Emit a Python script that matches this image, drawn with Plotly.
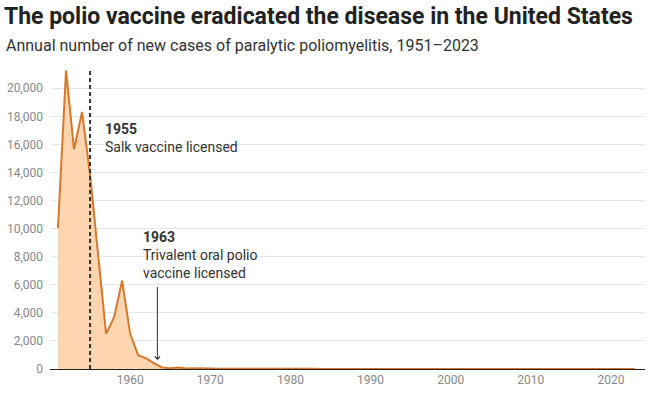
import plotly.graph_objects as go

years = list(range(1951, 2024))
cases = [10037, 21269, 15648, 18308, 13850, 7911, 2499, 3697, 6289, 2525,
         988, 762, 396, 106, 61, 106, 40, 53, 18, 31,
         17, 29, 7, 7, 13, 10, 18, 15, 34, 9,
         10, 12, 13, 8, 8, 10, 9, 9, 11, 6,
         10, 6, 4, 8, 7, 7, 4, 3, 2, 0,
         0, 0, 0, 0, 1, 0, 0, 0, 0, 0,
         0, 0, 0, 0, 0, 0, 0, 0, 0, 0,
         0, 1, 0]
y_ticks = list(range(0, 20001, 2000))
x_ticks = list(range(1960, 2021, 10))

LINE = "#d6782c"
FILL = "rgba(252,207,163,0.85)"
GRAY = "#888888"
FONT = "Roboto"

fig = go.Figure()
fig.add_trace(go.Scatter(x=years, y=cases, mode="lines", fill="tozeroy",
                         line=dict(color=LINE, width=2), fillcolor=FILL,
                         hoverinfo="x+y", showlegend=False))

# vaccine line 1955
fig.add_shape(type="line", x0=1955, x1=1955, y0=0, y1=1, yref="paper",
              line=dict(color="#333333", width=2, dash="4px,3px"))

fig.add_annotation(x=1956.6, y=17800, xanchor="left", yanchor="top", align="left",
                   text="<b>1955</b><br>Salk vaccine licensed", showarrow=False,
                   font=dict(family=FONT, size=14, color="#333333"))
fig.add_annotation(x=1961.4, y=10100, xanchor="left", yanchor="top", align="left",
                   text="<b>1963</b><br>Trivalent oral polio<br>vaccine licensed", showarrow=False,
                   font=dict(family=FONT, size=14, color="#333333"))
fig.add_annotation(x=1963.4, y=650, ax=1963.4, ay=5950, axref="x", ayref="y",
                   xref="x", yref="y", showarrow=True, arrowhead=4, arrowsize=1,
                   arrowwidth=1, arrowcolor="#333333", text="")

fig.update_layout(
    width=650, height=394,
    margin=dict(l=50, r=5, t=70, b=25),
    paper_bgcolor="white", plot_bgcolor="white",
    font=dict(family=FONT, size=12, color=GRAY),
    title=dict(text="<b>The polio vaccine eradicated the disease in the United States</b>",
               xref="container", x=0.006, xanchor="left", yref="container", y=1 - 16 / 394,
               yanchor="middle", font=dict(family=FONT, size=23, color="#222222")),
    xaxis=dict(range=[1950, 2024.25], tickvals=x_ticks, showgrid=False, zeroline=False,
               showline=True, linecolor="#222222", linewidth=1, ticks="",
               tickfont=dict(size=12, color=GRAY)),
    yaxis=dict(range=[0, 21300], tickvals=y_ticks, tickformat=",", showgrid=True,
               gridcolor="#e6e6e6", gridwidth=1, zeroline=False, showline=False,
               ticks="", ticklabelstandoff=6, tickfont=dict(size=12, color=GRAY)),
)
fig.add_annotation(xref="paper", yref="paper", x=-0.0773, y=(369 - 45) / 299,
                   xanchor="left", yanchor="middle", showarrow=False,
                   text="Annual number of new cases of paralytic poliomyelitis, 1951\u20132023",
                   font=dict(family=FONT, size=16, color="#333333"))

fig.write_html("out.html", config={"displayModeBar": False})
with open("out.html", encoding="utf-8") as f:
    html = f.read()
html = html.replace("<head>", "<head><style>html,body{margin:0;padding:0;}</style>", 1)
with open("out.html", "w", encoding="utf-8") as f:
    f.write(html)
